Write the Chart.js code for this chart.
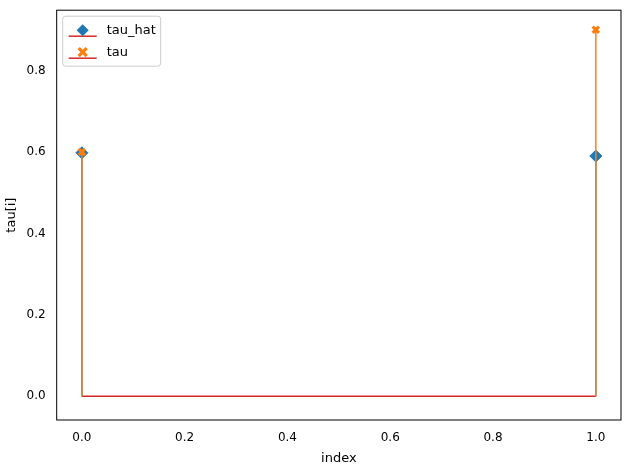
<!DOCTYPE html>
<html><head><meta charset="utf-8">
<script src="https://cdn.jsdelivr.net/npm/chart.js@4/dist/chart.umd.min.js"></script>
<style>html,body{margin:0;padding:0;background:#fff}#w{width:630px;height:470px}</style>
</head><body><div id="w"><canvas id="c"></canvas></div>
<script>
const indices = [0, 1];
const tauHat = [0.598, 0.59];
const tau = [0.6, 0.9];
const BLUE = '#1f77b4', ORANGE = '#ff7f0e', RED = '#d62728';

function stems(vals){const d=[];indices.forEach((x,i)=>{d.push({x:x,y:0},{x:x,y:vals[i]},{x:x,y:null});});return d;}
const pts = vals => indices.map((x,i)=>({x:x,y:vals[i]}));

const frame = {id:'frame',afterDraw(c){const a=c.chartArea,x=c.ctx;x.save();x.strokeStyle='#000';x.lineWidth=1;x.strokeRect(a.left,a.top,a.right-a.left,a.bottom-a.top);
 // legend
 const lx=a.left+6, ly=a.top+6; x.fillStyle='rgba(255,255,255,0.8)';x.strokeStyle='#ccc';
 x.beginPath();x.roundRect(lx,ly,98,50,3);x.fill();x.stroke();
 x.font='13px "DejaVu Sans"';x.fillStyle='#000';x.textBaseline='middle';
 const rows=[['tau_hat',BLUE,'d'],['tau',ORANGE,'x']];
 rows.forEach((r,i)=>{const cy=ly+14+i*22;
  x.strokeStyle=RED;x.lineWidth=1.5;x.beginPath();x.moveTo(lx+6,cy+6);x.lineTo(lx+34,cy+6);x.stroke();
  x.fillStyle=r[1];x.strokeStyle=r[1];
  if(r[2]==='d'){x.beginPath();x.moveTo(lx+20,cy-6);x.lineTo(lx+26,cy);x.lineTo(lx+20,cy+6);x.lineTo(lx+14,cy);x.closePath();x.fill();}
  else{x.lineWidth=3.2;x.beginPath();x.moveTo(lx+16,cy-4);x.lineTo(lx+24,cy+4);x.moveTo(lx+24,cy-4);x.lineTo(lx+16,cy+4);x.stroke();}
  x.fillStyle='#000';x.fillText(r[0],lx+44,cy);});
 x.restore();}};

new Chart(document.getElementById('c'),{
 type:'scatter',
 data:{datasets:[
  {type:'line',data:[{x:indices[0],y:0},{x:indices[indices.length-1],y:0}],borderColor:RED,borderWidth:1.5,pointRadius:0,order:5},
  {type:'line',data:stems(tauHat),borderColor:BLUE,borderWidth:1.5,pointRadius:0,spanGaps:false,order:4},
  {data:pts(tauHat),pointStyle:'rectRot',pointRadius:6,backgroundColor:BLUE,borderColor:BLUE,order:3},
  {type:'line',data:stems(tau),borderColor:ORANGE,borderWidth:1.5,pointRadius:0,spanGaps:false,order:2},
  {data:pts(tau),pointStyle:'crossRot',pointRadius:4.5,borderWidth:3.2,backgroundColor:ORANGE,borderColor:ORANGE,order:1}
 ]},
 options:{responsive:true,maintainAspectRatio:false,animation:false,
  layout:{padding:{left:0,right:9,top:8,bottom:0}},
  plugins:{legend:{display:false},tooltip:{enabled:false}},
  scales:{
   x:{type:'linear',min:-0.049,max:1.049,grid:{display:false,drawTicks:true},border:{display:false},
      title:{display:true,text:'index',color:'#000',font:{size:13,family:'DejaVu Sans'},padding:{top:2}},
      afterBuildTicks(s){s.ticks=[0,0.2,0.4,0.6,0.8,1].map(v=>({value:v}));},
      ticks:{color:'#000',font:{size:12,family:'DejaVu Sans'},maxRotation:0,callback:v=>v.toFixed(1)}},
   y:{min:-0.058,max:0.948,grid:{display:false},border:{display:false},
      title:{display:true,text:'tau[i]',color:'#000',font:{size:13,family:'DejaVu Sans'}},
      afterBuildTicks(s){s.ticks=[0,0.2,0.4,0.6,0.8].map(v=>({value:v}));},
      ticks:{color:'#000',font:{size:12,family:'DejaVu Sans'},callback:v=>v.toFixed(1)}}
  }},
 plugins:[frame]
});
</script></body></html>
